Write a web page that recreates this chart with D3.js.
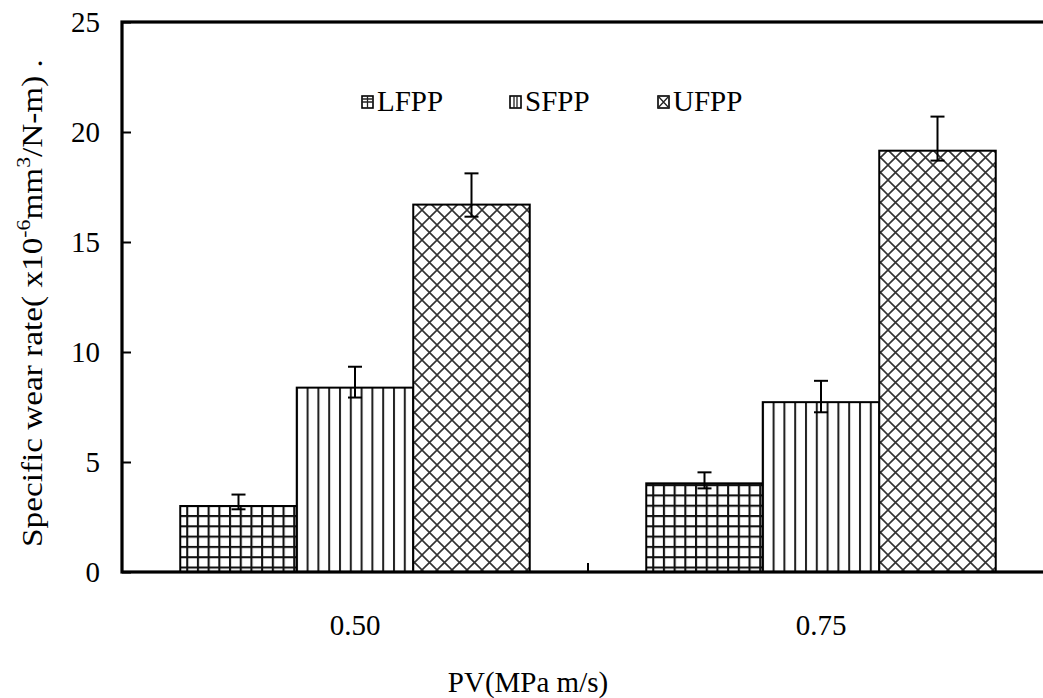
<!DOCTYPE html>
<html>
<head>
<meta charset="utf-8">
<script src="https://cdn.jsdelivr.net/npm/d3@7/dist/d3.min.js"></script>
<style>
  html, body { margin: 0; padding: 0; background: #fff; }
  svg { display: block; }
  svg text { font-family: "Liberation Serif", "Times New Roman", serif !important; font-size: 29px; fill: #000; }
  svg text tspan.sup { font-size: 19px; }
</style>
</head>
<body>
<svg id="chart" width="1043" height="698"></svg>
<script>
// PV levels and material series
const categories = ["0.50", "0.75"];
const series = ["LFPP", "SFPP", "UFPP"];
// specific wear rate (x10^-6 mm^3/N-m), one array per series, in category order
const lfpp = [3.0, 4.03];
const sfpp = [8.38, 7.72];
const ufpp = [16.7, 19.15];
// error bar extents above and below each bar
const lfppErrUp = [0.52, 0.5];
const lfppErrDown = [0.15, 0.23];
const sfppErrUp = [0.95, 0.97];
const sfppErrDown = [0.45, 0.46];
const ufppErrUp = [1.42, 1.55];
const ufppErrDown = [0.55, 0.45];
const yTicks = [0, 5, 10, 15, 20, 25];

const values = { LFPP: lfpp, SFPP: sfpp, UFPP: ufpp };
const errUp = { LFPP: lfppErrUp, SFPP: sfppErrUp, UFPP: ufppErrUp };
const errDown = { LFPP: lfppErrDown, SFPP: sfppErrDown, UFPP: ufppErrDown };

const svg = d3.select("#chart");
const margin = { left: 122, top: 22, bottom: 126 };
const plotRight = 1054;               // frame runs slightly past the page edge
const H = 698;
const y0 = H - margin.bottom;

const x0 = d3.scaleBand().domain(categories).range([margin.left, plotRight]).padding(0);
const bw = x0.bandwidth();
const x1 = d3.scaleBand().domain(series).range([bw * 0.125, bw * 0.875]).padding(0);
const y = d3.scaleLinear().domain([0, 25]).range([y0, margin.top]);

// fill patterns for the bars
const defs = svg.append("defs");
const grid = defs.append("pattern").attr("id", "pat-LFPP")
  .attr("patternUnits", "userSpaceOnUse").attr("width", 10.7).attr("height", 10.3);
grid.append("rect").attr("width", 10.7).attr("height", 10.3).attr("fill", "#fff");
grid.append("line").attr("x1", 1).attr("x2", 1).attr("y1", 0).attr("y2", 10.3)
  .attr("stroke", "#111").attr("stroke-width", 2.2);
grid.append("line").attr("y1", 1).attr("y2", 1).attr("x1", 0).attr("x2", 10.7)
  .attr("stroke", "#111").attr("stroke-width", 2.2);

const vert = defs.append("pattern").attr("id", "pat-SFPP")
  .attr("patternUnits", "userSpaceOnUse").attr("width", 10.8).attr("height", 10);
vert.append("rect").attr("width", 10.8).attr("height", 10).attr("fill", "#fff");
vert.append("line").attr("x1", 2).attr("x2", 2).attr("y1", 0).attr("y2", 10)
  .attr("stroke", "#222").attr("stroke-width", 2);

const cross = defs.append("pattern").attr("id", "pat-UFPP")
  .attr("patternUnits", "userSpaceOnUse").attr("width", 15).attr("height", 15);
cross.append("rect").attr("width", 15).attr("height", 15).attr("fill", "#fff");
cross.append("path").attr("d", "M0,0L15,15M15,0L0,15M-2,13L2,17M13,-2L17,2M-2,2L2,-2M13,17L17,13")
  .attr("stroke", "#333").attr("stroke-width", 1.6).attr("fill", "none");

// bars
const groups = svg.append("g").selectAll("g").data(categories).join("g")
  .attr("transform", d => `translate(${x0(d)},0)`);

groups.selectAll("rect").data((c, i) => series.map(s => ({ s, v: values[s][i] })))
  .join("rect")
  .attr("x", d => x1(d.s))
  .attr("y", d => y(d.v))
  .attr("width", x1.bandwidth())
  .attr("height", d => y(0) - y(d.v))
  .attr("fill", d => `url(#pat-${d.s})`)
  .attr("stroke", "#000").attr("stroke-width", 2);

// error bars
const eb = groups.selectAll("g.err").data((c, i) => series.map(s => ({
  s, v: values[s][i], up: errUp[s][i], dn: errDown[s][i]
}))).join("g").attr("class", "err")
  .attr("transform", d => `translate(${x1(d.s) + x1.bandwidth() / 2},0)`)
  .attr("stroke", "#000").attr("stroke-width", 2);
eb.append("line").attr("y1", d => y(d.v + d.up)).attr("y2", d => y(d.v - d.dn));
eb.append("line").attr("x1", -7).attr("x2", 7).attr("y1", d => y(d.v + d.up)).attr("y2", d => y(d.v + d.up));
eb.append("line").attr("x1", -7).attr("x2", 7).attr("y1", d => y(d.v - d.dn)).attr("y2", d => y(d.v - d.dn));

// y axis: inward ticks, labels to the left
const yAxis = svg.append("g").attr("transform", `translate(${margin.left},0)`)
  .call(d3.axisLeft(y).tickValues(yTicks).tickSizeInner(-9).tickSizeOuter(0).tickPadding(22));
yAxis.attr("font-size", null).attr("font-family", null);
yAxis.select(".domain").remove();
yAxis.selectAll(".tick line").attr("stroke", "#000").attr("stroke-width", 2);

// x axis: category labels, with a single divider tick between categories
const xAxis = svg.append("g").attr("transform", `translate(0,${y0})`)
  .call(d3.axisBottom(x0).tickSize(0).tickPadding(42));
xAxis.attr("font-size", null).attr("font-family", null);
xAxis.select(".domain").remove();
svg.append("line")
  .attr("x1", x0(categories[1])).attr("x2", x0(categories[1]))
  .attr("y1", y0).attr("y2", y0 - 9)
  .attr("stroke", "#000").attr("stroke-width", 2);

// frame
svg.append("rect")
  .attr("x", margin.left).attr("y", margin.top)
  .attr("width", plotRight - margin.left).attr("height", y0 - margin.top)
  .attr("fill", "none").attr("stroke", "#000").attr("stroke-width", 3.2);

// axis titles
svg.append("text")
  .attr("x", 528).attr("y", 692)
  .attr("text-anchor", "middle").text("PV(MPa m/s)");

// y title, widened along its run to span the plot height
const ytG = svg.append("g").attr("transform", "translate(42,303) rotate(-90)");
const yt = ytG.append("text").attr("text-anchor", "middle");
yt.append("tspan").text("Specific wear rate( x10");
yt.append("tspan").attr("class", "sup").attr("dy", -12).text("-6");
yt.append("tspan").attr("dy", 12).text("mm");
yt.append("tspan").attr("class", "sup").attr("dy", -12).text("3");
yt.append("tspan").attr("dy", 12).text("/N-m) .");
const ytTarget = 488;
const ytLen = yt.node().getComputedTextLength();
if (ytLen > 0) yt.attr("transform", `scale(${ytTarget / ytLen},1)`);

// legend: small swatches with a reduced version of each fill
const legendX = [362, 510, 658];
const legend = svg.append("g").selectAll("g").data(series).join("g")
  .attr("transform", (d, i) => `translate(${legendX[i]},96)`);
legend.append("rect").attr("width", 11).attr("height", 12)
  .attr("fill", "#fff").attr("stroke", "#000").attr("stroke-width", 1.6);
const swatchMarks = {
  LFPP: "M5.5,0V12M0,6H11M0,3H11",
  SFPP: "M4,0V12M7,0V12",
  UFPP: "M0,0L11,12M11,0L0,12"
};
legend.append("path").attr("d", d => swatchMarks[d])
  .attr("stroke", "#222").attr("stroke-width", 1.3).attr("fill", "none");
legend.append("text").attr("x", 15).attr("y", 15).text(d => d);
</script>
</body>
</html>
